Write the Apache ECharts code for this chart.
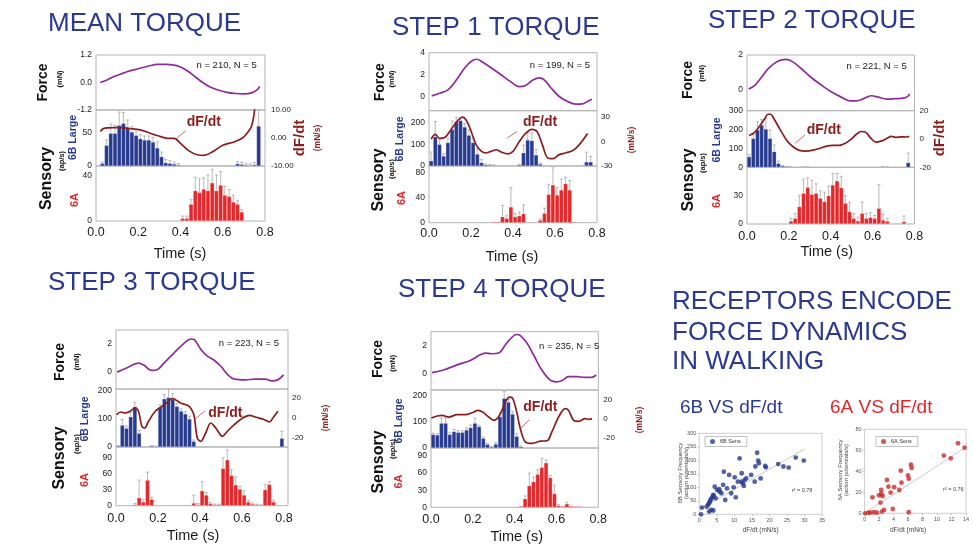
<!DOCTYPE html>
<html><head><meta charset="utf-8">
<script src="https://cdn.jsdelivr.net/npm/echarts@6/dist/echarts.min.js"></script>
<style>html,body{margin:0;padding:0;background:#fff}#c{width:973px;height:544px}</style>
</head><body><div id="c"></div>
<script>
// ---------------- DATA ----------------
const timeTicks = [0, 0.2, 0.4, 0.6, 0.8];
const binWidth = 0.02; // 40 histogram bins of 20 ms

// MEAN TORQUE
const meanForce = [[0.02,0],[0.05,0.1],[0.08,0.24],[0.12,0.38],[0.15,0.48],[0.2,0.6],[0.25,0.72],[0.29,0.79],[0.33,0.79],[0.37,0.76],[0.4,0.68],[0.43,0.52],[0.46,0.32],[0.5,0.03],[0.54,-0.2],[0.58,-0.34],[0.62,-0.43],[0.66,-0.48],[0.7,-0.5],[0.74,-0.44],[0.765,-0.3],[0.775,-0.17]];
const meanDFdt = [[0.02,2.3],[0.04,3.5],[0.08,3.7],[0.12,3.7],[0.16,3.4],[0.21,2.9],[0.25,1.9],[0.28,1.1],[0.31,0.4],[0.34,-0.1],[0.37,-0.1],[0.4,-1.9],[0.44,-4.6],[0.48,-6],[0.51,-6.2],[0.55,-5],[0.6,-2.6],[0.65,-1.5],[0.69,-0.2],[0.715,1.7],[0.735,4],[0.745,7],[0.752,11]];
const mean6B = [0,4,31,49,49,61,64,57,51,46,41,39,39,36,27,14,5,4,3,1.5,0,0,0,0,0,0,0,0,0,0,0,0,0,3.5,2.5,1.5,1,2,60,0];
const mean6BErr = [0,2,8,14,12,20,16,12,8,6,6,6,6,7,9,7,5,4,3,2,0,0,0,0,0,0,0,0,0,0,0,0,0,3,3,2,2,3,24,0];
const mean6A = [0,0,0,0,0,0,0,0,0,0,0,0,0,0,0,0,0,0,0,0,2.4,2.4,15,27,25.5,28.4,27,34,27,32,23,22,17,15,8,0,0,0,0,0];
const mean6AErr = [0,0,0,0,0,0,0,0,0,0,0,0,0,0,0,0,0,0,0,0,2,2,4,12,12,10,14,12,14,12,8,6,6,3,2,0,0,0,0,0];

// STEP 1 TORQUE
const s1Force = [[0.013,0.06],[0.05,0.3],[0.09,0.6],[0.13,1.5],[0.17,2.6],[0.2,3.2],[0.227,3.4],[0.25,3.2],[0.29,2.7],[0.335,2.1],[0.385,1.4],[0.43,0.9],[0.46,1.0],[0.495,1.5],[0.525,1.7],[0.55,1.5],[0.58,0.8],[0.62,0],[0.66,-0.46],[0.7,-0.7],[0.73,-0.68],[0.755,-0.46],[0.775,-0.25]];
const s1DFdt = [[0.01,3],[0.03,9],[0.05,4],[0.075,5],[0.1,13],[0.125,22],[0.145,28],[0.16,30],[0.18,25],[0.2,13],[0.225,-4],[0.25,-12],[0.27,-14],[0.295,-12],[0.32,-10],[0.345,-13],[0.375,-15],[0.4,-12],[0.43,0],[0.46,10],[0.49,15],[0.515,12],[0.54,-4],[0.565,-20],[0.59,-21],[0.62,-16],[0.65,-14],[0.685,-11],[0.715,-4],[0.755,10]];
const s16B = [24,135,100,46,108,168,205,210,180,142,108,55,16,6,4,3,0,0,0,0,0,5,61,120,117,51,9,0,0,0,0,0,0,2,0,0,0,19,19,0];
const s16BErr = [40,70,20,10,20,40,20,12,15,25,20,25,15,3,3,2,0,0,0,0,0,3,35,34,35,25,5,0,0,0,0,0,0,0,0,0,0,45,25,0];
const s16A = [1,0,0,0,0,0,0,0,0,0,0,0,0,0,0,1.6,1.6,9.5,7,25,9.5,11,14.3,0,0,0,4,15,45,60,44,52,62,52,1.5,0,0,0,0,0];
const s16AErr = [0,0,0,0,0,0,0,0,0,0,0,0,0,0,0,0,0,18,4,31,5,6,14,0,0,0,2,8,16,27,12,17,10,15,0,0,0,0,0,0];

// STEP 2 TORQUE
const s2Force = [[0.008,0.04],[0.04,0.29],[0.072,0.76],[0.104,1.24],[0.145,1.62],[0.185,1.75],[0.217,1.62],[0.257,1.24],[0.305,0.72],[0.353,0.29],[0.4,-0.1],[0.45,-0.42],[0.49,-0.63],[0.522,-0.63],[0.562,-0.48],[0.594,-0.34],[0.627,-0.42],[0.667,-0.53],[0.707,-0.51],[0.747,-0.48],[0.768,-0.38],[0.776,-0.23]];
const s2DFdt = [[0.01,2.5],[0.035,4.5],[0.06,9],[0.085,14.5],[0.1,17.5],[0.112,17.5],[0.13,14],[0.155,7.5],[0.19,-1],[0.22,-5.5],[0.25,-8],[0.28,-8.5],[0.31,-8],[0.35,-6.5],[0.38,-5],[0.41,-4.5],[0.44,-4.5],[0.47,-3],[0.495,-0.5],[0.52,3],[0.545,5.3],[0.565,5],[0.59,0.8],[0.615,-2.2],[0.64,-1.5],[0.665,0.2],[0.69,1.8],[0.71,1.2],[0.735,1.5],[0.76,1.4],[0.775,2]];
const s26B = [56,153,198,224,203,153,83,21,7,3.5,2,0,0,2,1.5,0,0,0,0,0,0,0,0,0,0,0,0,0,0,0,0,0,3,2,0,0,0,0,25,0];
const s26BErr = [10,20,45,30,55,45,35,12,3,2,1,0,0,1,1,0,0,0,0,0,0,0,0,0,0,0,0,0,0,0,0,0,2,1,0,0,0,0,50,0];
const s26A = [0,0,0,0,0,0,0,0,0,0,3.2,6,18.4,32.5,38.9,31.4,32.5,27.2,23.7,30,41.3,45.6,38.5,22,13,6,3.2,11.3,6,7,6,16.6,4.2,3,0,0.7,0.7,2.5,0,0];
const s26AErr = [0,0,0,0,0,0,0,0,0,0,3,5,12,15,10,15,10,8,10,10,12,8,12,8,10,5,4,12,5,5,3,25,6,3,0,0,0,6,0,0];

// STEP 3 TORQUE
const s3Force = [[0.006,0],[0.05,0.29],[0.108,0.64],[0.13,0.52],[0.17,0.12],[0.196,0.17],[0.228,0.64],[0.276,1.36],[0.325,2.07],[0.357,2.36],[0.373,2.31],[0.405,1.6],[0.437,1.12],[0.469,0.83],[0.5,0.4],[0.533,-0.19],[0.565,-0.5],[0.614,-0.55],[0.662,-0.5],[0.71,-0.5],[0.742,-0.62],[0.77,-0.55],[0.798,-0.19]];
const s3DFdt = [[0.003,3.3],[0.024,6],[0.043,5],[0.067,6.7],[0.091,10],[0.107,6.7],[0.123,-8.3],[0.136,-10],[0.155,-3.3],[0.187,6.7],[0.22,11.7],[0.25,16.7],[0.267,19.3],[0.283,18.3],[0.307,15],[0.34,12.7],[0.355,10],[0.371,3.3],[0.387,-20],[0.403,-23.3],[0.427,-15],[0.451,-5],[0.475,-10],[0.507,-18.3],[0.53,-13.3],[0.563,-6.7],[0.603,0],[0.635,2.7],[0.667,0.7],[0.707,-1.7],[0.731,-4],[0.747,0],[0.771,6.7]];
const s36B = [3.6,78,67,108,144,49,0,0,3.6,2,141,172,177,170,145,128,118,100,20,0,0,0,0,0,0,0,1.5,0,0,0,1.5,0,0,0,0,0,0,0,0,31];
const s36BErr = [2,20,8,15,16,10,0,0,2,1,10,15,30,20,10,8,8,10,5,0,0,0,0,0,0,0,0,0,0,0,0,0,0,0,0,0,0,0,0,25];
const s36A = [0,0,0,0,2,15,7,48,12,0,0,0,0,0,0,0,0,0,5,2,28,20,4,2,2,70,86,57,39,31,20,7,3,2,1,30,40,7,0,0];
const s36AErr = [0,0,0,0,2,33,4,15,4,0,0,0,0,0,0,0,0,0,15,2,17,5,2,1,1,20,18,10,15,5,8,3,2,1,1,10,5,3,0,0];

// STEP 4 TORQUE
const s4Force = [[0.005,0.05],[0.06,0.24],[0.124,0.61],[0.188,0.93],[0.235,1.34],[0.26,1.46],[0.29,1.41],[0.323,1.46],[0.363,2.2],[0.41,2.8],[0.426,2.73],[0.458,2.2],[0.49,1.34],[0.53,0.24],[0.57,-0.49],[0.6,-0.61],[0.625,-0.54],[0.657,-0.24],[0.697,-0.24],[0.736,-0.29],[0.768,-0.29],[0.79,-0.12]];
const s4DFdt = [[0.002,1],[0.03,3.2],[0.053,3.9],[0.085,2.1],[0.125,4.6],[0.165,4.6],[0.196,6.7],[0.225,9.2],[0.247,7.4],[0.276,2.1],[0.3,-1.4],[0.316,0.4],[0.332,5.7],[0.356,18],[0.375,23.3],[0.39,22.3],[0.41,7.4],[0.427,-10.2],[0.451,-24.4],[0.483,-26],[0.523,-23.7],[0.555,-23.3],[0.578,-13.8],[0.61,2.1],[0.642,11],[0.658,9.2],[0.682,-1.4],[0.706,-2.5],[0.737,0.4],[0.757,-0.4],[0.77,0.4]];
const s46B = [52,50,95,95,52,63,60,60,69,78,95,82,37,14,4,15,120,190,176,130,45,5,0,0,0,0,0,1,0,0,1,0,0,0,0,0,0,0,0,2];
const s46BErr = [5,5,20,20,8,8,6,6,8,10,20,5,5,3,2,5,15,26,10,10,10,3,0,0,0,0,0,0,0,0,0,0,0,0,0,0,0,0,0,0];
const s46A = [0,0,0,0,0,0,0,0,0,0,0,0,0,0,0,0,0,0,0,0,0,2,15,38,45,58,70,78,52,24,3,2,6,2,1.5,1.5,1,0,0,0];
const s46AErr = [0,0,0,0,0,0,0,0,0,0,0,0,0,0,0,0,0,0,0,0,0,0,5,22,8,8,16,5,4,15,2,0,3,0,0,0,0,0,0,0];

// Scatter: sensory frequency vs dF/dt
const sens6B = [[0.5,0],[0.75,25],[2.1,28],[2.5,35],[2.8,41],[3,47],[3.2,53],[3.5,59],[3.8,65],[4,72],[4.1,68],[3.4,16],[4,14],[2.8,10],[4.4,102],[4.7,59],[5.1,90],[5.7,93],[5.8,84],[6.3,78],[6.8,109],[7,158],[7.4,53],[7.9,96],[8.5,146],[9.1,78],[9.8,100],[10.1,137],[10.4,63],[11,121],[11.5,207],[12,121],[12.1,152],[12.4,115],[12.9,127],[12.7,105],[13.4,133],[14.8,146],[15.8,121],[16,177],[16.5,228],[16.8,199],[17,189],[17.5,133],[18.8,179],[19,174],[22.5,186],[24,177],[25.5,173],[27.5,210],[29.8,199]];
const fit6B = [[0.3,20],[30,242]];
const sens6A = [[0.1,0],[0.55,0.6],[0.85,0.6],[1.3,1],[1.7,0.6],[2.4,1.6],[2.7,3.2],[3.9,4.1],[6.1,1],[1.1,15.2],[2.0,17.1],[2.3,22.2],[2.3,18.4],[2.5,16.5],[2.2,10.2],[3.1,31.7],[3.3,25.4],[3.6,19.7],[4.1,24.8],[4.8,22.2],[5.0,40.6],[5.1,29.2],[6.0,36.2],[6.1,33],[6.4,46.3],[6.5,43.2],[10.95,55],[11.9,52.4],[12.9,66.7],[13.8,62.5]];
const fit6A = [[0,0],[14,63]];

// ---------------- STYLE / LAYOUT ----------------
const FONT = '"Liberation Sans", Arial, Helvetica, sans-serif';
const NAVY = '#2b3990', BLUE = '#283a8e', RED = '#e2282b', PURPLE = '#8f2b9b', DARKRED = '#8b1d1d';
const ERRC = '#a8a8a8', FRAME = '#b3b3b3';

const panels = [
 {title:'MEAN TORQUE', tx:48, ty:24, n:'n = 210, N = 5', force:meanForce, dfdt:meanDFdt, b:mean6B, be:mean6BErr, a:mean6A, ae:mean6AErr,
  L:96, R:265, xMax:0.8, fTop:55, fBot:110, bBot:166, aBot:221,
  fMin:-1.2, fMax:1.2, fT:[-1.2,0,1.2], fDec:1, bMax:84, bT:[0,50], dMin:-10, dMax:10, dT:[-10,0,10], dDec:2, aMax:49, aT:[0,40],
  xm:5, rm:6,
  lab:{force:[43,82.5], mn:[60,79], sens:[46.7,178.5], aps:[61.7,161], b6:[73.3,137.5], a6:[75,200]},
  dfIn:[186.7,122], ptr:[175.7,139,185.7,130.7], nPos:[256.7,65], rTitle:[300,138], rUnit:[318,138], time:[180,254]},
 {title:'STEP 1 TORQUE', tx:392, ty:28, n:'n = 199, N = 5', force:s1Force, dfdt:s1DFdt, b:s16B, be:s16BErr, a:s16A, ae:s16AErr,
  L:429, R:597, xMax:0.8, fTop:52.7, fBot:110.7, bBot:166, aBot:222.7,
  fMin:-1.3, fMax:4, fT:[0,2,4], fDec:0, bMax:255, bT:[0,100,200], dMin:-30, dMax:38, dT:[-30,0,30], dDec:0, aMax:90, aT:[0,40,80],
  xm:4, rm:4,
  lab:{force:[380,82.3], mn:[391.7,79], sens:[378.3,180], aps:[391.7,169], b6:[400,139], a6:[401.7,198]},
  dfIn:[523,121.7], ptr:[506.7,138.3,516.7,131.7], nPos:[590,65], rTitle:null, rUnit:[632,140], time:[512,257]},
 {title:'STEP 2 TORQUE', tx:708, ty:21, n:'n = 221, N = 5', force:s2Force, dfdt:s2DFdt, b:s26B, be:s26BErr, a:s26A, ae:s26AErr,
  L:747, R:914.5, xMax:0.8, fTop:55, fBot:110.7, bBot:167.3, aBot:224,
  fMin:-1.2, fMax:2, fT:[0,2], fDec:0, bMax:300, bT:[0,100,200,300], dMin:-20, dMax:20, dT:[-20,0,20], dDec:0, aMax:60, aT:[0,30],
  xm:6, rm:5,
  lab:{force:[688.3,80], mn:[701.7,73.3], sens:[688.3,180], aps:[702.7,163], b6:[716.7,140], a6:[717,201]},
  dfIn:[806.7,130], ptr:[795,143.3,805,135], nPos:[906.7,66], rTitle:[940,138], rUnit:null, time:[826.7,251.7]},
 {title:'STEP 3 TORQUE', tx:48, ty:283, n:'n = 223, N = 5', force:s3Force, dfdt:s3DFdt, b:s36B, be:s36BErr, a:s36A, ae:s36AErr,
  L:116, R:288, xMax:0.819, fTop:330, fBot:389, bBot:447, aBot:505.7,
  fMin:-1.2, fMax:3, fT:[0,2], fDec:0, bMax:207, bT:[0,100,200], dMin:-29, dMax:29, dT:[-20,0,20], dDec:0, aMax:110, aT:[0,30,60,90],
  xm:6, rm:4,
  lab:{force:[60,362], mn:[76.7,361.7], sens:[60,458], aps:[76.7,444], b6:[85,419], a6:[85,480]},
  dfIn:[208.3,413.3], ptr:[195,419,205,410.7], nPos:[279,343.3], rTitle:null, rUnit:[326,418], time:[193,536]},
 {title:'STEP 4 TORQUE', tx:398, ty:290, n:'n = 235, N = 5', force:s4Force, dfdt:s4DFdt, b:s46B, be:s46BErr, a:s46A, ae:s46AErr,
  L:431, R:598.3, xMax:0.8, fTop:331.7, fBot:390, bBot:448, aBot:507.3,
  fMin:-1.2, fMax:3, fT:[0,2], fDec:0, bMax:222, bT:[0,100,200], dMin:-31, dMax:31, dT:[-20,0,20], dDec:0, aMax:104, aT:[0,30,60,90],
  xm:6, rm:5,
  lab:{force:[378.3,359], mn:[393.3,363.3], sens:[378.3,462], aps:[393.3,449], b6:[399.3,421], a6:[399.3,481.5]},
  dfIn:[523.3,407.3], ptr:[521,428,529,420], nPos:[599.3,346], rTitle:null, rUnit:[640,420], time:[516.7,537.3]}
];

const grids = [], xAxis = [], yAxis = [], series = [], graphic = [];

function txt(x, y, text, o) {
  o = o || {};
  return {type:'text', x:x, y:y, rotation:o.rot ? Math.PI/2 : 0, silent:true, z:100,
    style:{text:text, fill:o.color||'#111', fontSize:o.size||12, fontWeight:o.bold?'bold':'normal', fontFamily:FONT,
      align:o.align||'center', verticalAlign:o.va||'middle'}};
}

function errRender(params, api) {
  const e = api.value(2);
  if (!e) return null;
  const x = api.value(0), v = api.value(1);
  const p0 = api.coord([x, v]), p1 = api.coord([x, v + e]);
  const st = {stroke:ERRC, lineWidth:0.8};
  return {type:'group', children:[
    {type:'line', shape:{x1:p0[0], y1:p0[1], x2:p1[0], y2:p1[1]}, style:st},
    {type:'line', shape:{x1:p1[0]-1.6, y1:p1[1], x2:p1[0]+1.6, y2:p1[1]}, style:st}
  ]};
}

function binData(vals) {
  const out = [];
  vals.forEach((v, i) => { if (v) out.push([(i + 0.5) * binWidth, v]); });
  return out;
}
function errData(vals, errs) {
  return vals.map((v, i) => [(i + 0.5) * binWidth, v, errs[i]]);
}

function addPanel(p) {
  const W = p.R - p.L;
  const binPx = W * binWidth / p.xMax;
  const g = grids.length;
  const gbase = {show:true, borderColor:FRAME, borderWidth:1, backgroundColor:'transparent'};
  grids.push(Object.assign({left:p.L, top:p.fTop, width:W, height:p.fBot - p.fTop}, gbase));
  grids.push(Object.assign({left:p.L, top:p.fBot, width:W, height:p.bBot - p.fBot}, gbase));
  grids.push(Object.assign({left:p.L, top:p.bBot, width:W, height:p.aBot - p.bBot}, gbase));
  const xi = xAxis.length;
  for (let k = 0; k < 3; k++) {
    xAxis.push({type:'value', gridIndex:g + k, min:0, max:p.xMax, show:k === 2,
      axisLine:{show:false}, axisTick:{show:false}, splitLine:{show:false},
      axisLabel:{show:k === 2, customValues:timeTicks, formatter:v => v.toFixed(1), fontSize:12.5, color:'#1a1a1a', margin:p.xm, fontFamily:FONT}});
  }
  const yi = yAxis.length;
  const yl = (gi, min, max, ticks, dec, pos, margin, size) => ({type:'value', gridIndex:gi, min:min, max:max, position:pos,
    axisLine:{show:false}, axisTick:{show:false}, splitLine:{show:false},
    axisLabel:{customValues:ticks, formatter:v => Number(v).toFixed(dec), fontSize:size, color:'#222', margin:margin, fontFamily:FONT}});
  yAxis.push(yl(g, p.fMin, p.fMax, p.fT, p.fDec, 'left', 4, 8.5));
  yAxis.push(yl(g + 1, 0, p.bMax, p.bT, 0, 'left', 4, 8.5));
  yAxis.push(yl(g + 1, p.dMin, p.dMax, p.dT, p.dDec, 'right', p.rm, 8));
  yAxis.push(yl(g + 2, 0, p.aMax, p.aT, 0, 'left', 4, 8.5));

  series.push({type:'line', xAxisIndex:xi, yAxisIndex:yi, data:p.force, smooth:0.35, symbol:'none',
    lineStyle:{color:PURPLE, width:1.7}, z:5});
  series.push({type:'bar', xAxisIndex:xi + 1, yAxisIndex:yi + 1, data:binData(p.b), barWidth:binPx,
    itemStyle:{color:BLUE, borderColor:'rgba(200,210,240,0.55)', borderWidth:0.5}, z:2});
  series.push({type:'custom', xAxisIndex:xi + 1, yAxisIndex:yi + 1, data:errData(p.b, p.be), renderItem:errRender, clip:true, z:3});
  series.push({type:'line', xAxisIndex:xi + 1, yAxisIndex:yi + 2, data:p.dfdt, smooth:0.35, symbol:'none',
    lineStyle:{color:DARKRED, width:1.7}, z:6});
  series.push({type:'bar', xAxisIndex:xi + 2, yAxisIndex:yi + 3, data:binData(p.a), barWidth:binPx,
    itemStyle:{color:RED, borderColor:'rgba(255,200,200,0.55)', borderWidth:0.5}, z:2});
  series.push({type:'custom', xAxisIndex:xi + 2, yAxisIndex:yi + 3, data:errData(p.a, p.ae), renderItem:errRender, clip:true, z:3});

  const lb = p.lab;
  graphic.push(txt(p.tx, p.ty, p.title, {align:'left', size:26, color:NAVY}));
  graphic.push(txt(lb.force[0], lb.force[1], 'Force', {rot:true, bold:true, size:14}));
  graphic.push(txt(lb.mn[0], lb.mn[1], '(mN)', {rot:true, bold:true, size:7.5}));
  graphic.push(txt(lb.sens[0], lb.sens[1], 'Sensory', {rot:true, bold:true, size:16}));
  graphic.push(txt(lb.aps[0], lb.aps[1], '(ap/s)', {rot:true, bold:true, size:7.5}));
  graphic.push(txt(lb.b6[0], lb.b6[1], '6B Large', {rot:true, bold:true, size:10.5, color:BLUE}));
  graphic.push(txt(lb.a6[0], lb.a6[1], '6A', {rot:true, bold:true, size:11, color:RED}));
  graphic.push(txt(p.dfIn[0], p.dfIn[1], 'dF/dt', {align:'left', bold:true, size:14, color:DARKRED}));
  graphic.push({type:'line', silent:true, z:100, shape:{x1:p.ptr[0], y1:p.ptr[1], x2:p.ptr[2], y2:p.ptr[3]}, style:{stroke:'#c46060', lineWidth:0.9}});
  graphic.push(txt(p.nPos[0], p.nPos[1], p.n, {align:'right', size:9.5, color:'#222'}));
  if (p.rTitle) graphic.push(txt(p.rTitle[0], p.rTitle[1], 'dF/dt', {rot:true, bold:true, size:15, color:DARKRED}));
  if (p.rUnit) graphic.push(txt(p.rUnit[0], p.rUnit[1], '(mN/s)', {rot:true, bold:true, size:8.5, color:DARKRED}));
  graphic.push(txt(p.time[0], p.time[1], 'Time (s)', {size:14.5, color:'#1a1a1a'}));
}
panels.forEach(addPanel);

// ---- right-hand block: headline + scatter plots ----
graphic.push(txt(672, 302, 'RECEPTORS ENCODE', {align:'left', size:26, color:NAVY}));
graphic.push(txt(672, 333, 'FORCE DYNAMICS', {align:'left', size:26, color:NAVY}));
graphic.push(txt(672, 362, 'IN WALKING', {align:'left', size:26, color:NAVY}));
graphic.push(txt(680, 408, '6B VS dF/dt', {align:'left', size:19, color:NAVY}));
graphic.push(txt(830, 408, '6A VS dF/dt', {align:'left', size:19, color:RED}));

const scatters = [
 {L:699.3, T:433.3, W:122.7, H:81, xMax:35, xInt:5, yMax:300, yInt:50, data:sens6B, fit:fit6B, name:'6B Sens', color:BLUE,
  legend:[705,436.5], r2:'r² = 0.78', r2Pos:[791.7,490], xName:[760.7,530], yName1:[680.5,473], yName2:[686.5,473], yLabel:'6B Sensory Frequency'},
 {L:864.5, T:429.3, W:101.5, H:84, xMax:14, xInt:2, yMax:80, yInt:20, data:sens6A, fit:fit6A, name:'6A Sens', color:'#cc2a2a',
  legend:[876,436.5], r2:'r² = 0.76', r2Pos:[943,489.3], xName:[908,530], yName1:[840.7,470], yName2:[846.5,470], yLabel:'6A Sensory Frequency'}
];
const legends = [];
scatters.forEach(s => {
  const g = grids.length;
  grids.push({left:s.L, top:s.T, width:s.W, height:s.H, show:true, borderColor:'#c4c4c4', borderWidth:0.8, backgroundColor:'transparent'});
  const xi = xAxis.length, yi = yAxis.length;
  xAxis.push({type:'value', gridIndex:g, min:0, max:s.xMax, interval:s.xInt, splitLine:{show:false},
    axisLine:{show:false}, axisTick:{show:true, length:2, lineStyle:{color:'#aaa', width:0.6}},
    axisLabel:{fontSize:5.5, color:'#555', margin:3, fontFamily:FONT}});
  yAxis.push({type:'value', gridIndex:g, min:0, max:s.yMax, interval:s.yInt, splitLine:{show:false},
    axisLine:{show:false}, axisTick:{show:true, length:2, lineStyle:{color:'#aaa', width:0.6}},
    axisLabel:{fontSize:5.5, color:'#555', margin:3, fontFamily:FONT}});
  series.push({type:'line', name:s.name + ' fit', xAxisIndex:xi, yAxisIndex:yi, data:s.fit, symbol:'none',
    lineStyle:{color:'#bdbdbd', width:0.8}, z:2});
  series.push({type:'scatter', name:s.name, xAxisIndex:xi, yAxisIndex:yi, data:s.data, symbolSize:4.8,
    itemStyle:{color:s.color}, z:3});
  legends.push({data:[s.name], left:s.legend[0], top:s.legend[1], orient:'horizontal', selectedMode:false,
    icon:'circle', itemWidth:5, itemHeight:5, itemGap:4, padding:[2,6,2,5], borderColor:'#999', borderWidth:0.6,
    textStyle:{fontSize:5.5, color:'#333', fontFamily:FONT}});
  graphic.push(txt(s.r2Pos[0], s.r2Pos[1], s.r2, {align:'left', size:5.5, color:'#444'}));
  graphic.push(txt(s.xName[0], s.xName[1], 'dF/dt (mN/s)', {size:6.5, color:'#444'}));
  graphic.push(txt(s.yName1[0], s.yName1[1], s.yLabel, {rot:true, size:6, color:'#444'}));
  graphic.push(txt(s.yName2[0], s.yName2[1], '(action potentials/s)', {rot:true, size:6, color:'#444'}));
});

const chart = echarts.init(document.getElementById('c'), null, {renderer:'canvas'});
chart.setOption({
  animation:false, backgroundColor:'#fff',
  grid:grids, xAxis:xAxis, yAxis:yAxis, series:series, legend:legends, graphic:graphic
});
</script></body></html>
